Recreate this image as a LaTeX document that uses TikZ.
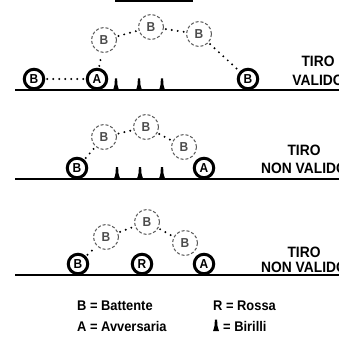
\documentclass[tikz,border=0pt]{standalone}
\usepackage{fontspec}
\setmainfont{Liberation Sans}[FakeStretch=0.92]
\begin{document}
\begin{tikzpicture}[x=1pt,y=-1pt,
  ball/.style={circle,draw=black,line width=3pt,minimum size=19.5pt,inner sep=0pt,font=\fontsize{13}{13}\selectfont\bfseries},
  ghost/.style={circle,draw=black!65,line width=1pt,dash pattern=on 3pt off 2pt,minimum size=25pt,inner sep=0pt,text=black!70,font=\fontsize{13}{13}\selectfont\bfseries},
  ground/.style={line width=2pt},
  trail/.style={line width=2.2pt,line cap=round,dash pattern=on 0pt off 6pt,shorten >=2pt,shorten <=2pt},
  label/.style={anchor=base,inner sep=0pt,font=\fontsize{15}{15}\selectfont\bfseries},
  legend/.style={anchor=base west,inner sep=0pt,font=\fontsize{14}{14}\selectfont\bfseries},
  birillo/.pic={\fill (-3,0) -- (3,0) -- (2,-3) -- (1.3,-6) -- (1.3,-8.5) -- (1,-11.5) -- (-1,-11.5) -- (-1.3,-8.5) -- (-1.3,-6) -- (-2,-3) -- cycle;}
]
\useasboundingbox (0,0) rectangle (339,339);
\fill (115,0) rectangle (193,2);

% Panel 1
\draw[ground] (15,90.5) -- (339,90.5);
\node[ball] (b1) at (34,79) {B};
\node[ball] (a1) at (97,79) {A};
\node[ball] (e1) at (248,79) {B};
\node[ghost] (g11) at (104,40) {B};
\node[ghost] (g12) at (151,27) {B};
\node[ghost] (g13) at (199,34) {B};
\pic at (116,90) {birillo};
\pic at (139,90) {birillo};
\pic at (162,90) {birillo};
\draw[trail] (b1) -- (a1);
\draw[trail] (a1) -- (g11);
\draw[trail] (g11) -- (g12);
\draw[trail] (g12) -- (g13);
\draw[trail] (g13) -- (e1);
\node[label] (t1a) at (318,67) {TIRO};
\node[label] (t1b) at (318,86) {VALIDO};

% Panel 2
\draw[ground] (15,179) -- (339,179);
\node[ball] (b2) at (77,168) {B};
\node[ball] (a2) at (204,168) {A};
\node[ghost] (g21) at (104,137) {B};
\node[ghost] (g22) at (146,127) {B};
\node[ghost] (g23) at (184,147) {B};
\pic at (117,178.5) {birillo};
\pic at (140,178.5) {birillo};
\pic at (162,178.5) {birillo};
\draw[trail] (b2) -- (g21);
\draw[trail] (g21) -- (g22);
\draw[trail] (g22) -- (g23);
\node[label] (t2a) at (304,155) {TIRO};
\node[label] (t2b) at (304,173) {NON VALIDO};

% Panel 3
\draw[ground] (15,275) -- (339,275);
\node[ball] (b3) at (78,264) {B};
\node[ball] (r3) at (142,264) {R};
\node[ball] (a3) at (204,264) {A};
\node[ghost] (g31) at (106,237) {B};
\node[ghost] (g32) at (147,222) {B};
\node[ghost] (g33) at (185,243) {B};
\draw[trail] (b3) -- (g31);
\draw[trail] (g31) -- (g32);
\draw[trail] (g32) -- (g33);
\node[label] (t3a) at (304,257) {TIRO};
\node[label] (t3b) at (304,272) {NON VALIDO};

% Legend
\node[legend] (l1) at (77,310) {B = Battente};
\node[legend] (l2) at (213,310) {R = Rossa};
\node[legend] (l3) at (77,331) {A = Avversaria};
\pic at (216,331) {birillo};
\node[legend] (l4) at (223,331) {= Birilli};
\end{tikzpicture}
\end{document}
